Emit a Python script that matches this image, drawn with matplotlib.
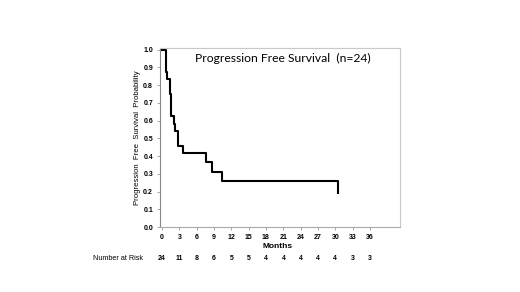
import matplotlib
matplotlib.use("Agg")
import matplotlib.pyplot as plt
import matplotlib.transforms as mtransforms

times = [0, 0.74, 0.91, 1.36, 1.47, 1.59, 2.04, 2.27, 2.83, 3.63, 7.6, 8.6, 10.3, 30.4]
surv = [1.0, 0.875, 0.833, 0.75, 0.667, 0.625, 0.583, 0.542, 0.458, 0.417, 0.365, 0.313, 0.26, 0.19]
xticks = [0, 3, 6, 9, 12, 15, 18, 21, 24, 27, 30, 33, 36]
at_risk = [24, 11, 8, 6, 5, 5, 4, 4, 4, 4, 4, 3, 3]
yticks = [0.0, 0.1, 0.2, 0.3, 0.4, 0.5, 0.6, 0.7, 0.8, 0.9, 1.0]

plt.rcParams['font.family'] = ['Liberation Sans', 'DejaVu Sans']
fig = plt.figure(figsize=(5.2, 2.92), dpi=100)
ax = fig.add_axes([160/520, 1-227/292, 240/520, 179/292])

ax.step(times, surv, where='post', color='black', lw=1.5)
ax.set_xlim(-0.35, 41.2)
ax.set_ylim(0, 1.01)
ax.set_xticks(xticks)
ax.set_xticklabels([str(t) for t in xticks], fontsize=5, fontweight='bold')
ax.set_yticks(yticks)
ax.set_yticklabels([f"{v:.1f}" for v in yticks], fontsize=5, fontweight='bold')
ax.tick_params(axis='both', length=2, width=0.6, color='#999999', pad=3)
for s in ax.spines.values():
    s.set_color('#c8c8c8')
    s.set_linewidth(0.8)
ax.spines['left'].set_color('#888888')
ax.spines['bottom'].set_color('#aaaaaa')

ax.set_ylabel('Progression  Free  Survival  Probability', fontsize=5.6, labelpad=2)
ax.yaxis.set_label_coords(-19/240, 0.5)
ax.text(0.51, 0.94, 'Progression Free Survival  (n=24)', transform=ax.transAxes,
        ha='center', va='center', fontsize=8.7, family=['Lato', 'DejaVu Sans'])

fig.text(278/520, 1-246/292, 'Months', ha='center', va='center', fontsize=6, fontweight='bold')
trans = mtransforms.blended_transform_factory(ax.transData, fig.transFigure)
for t, n in zip(xticks, at_risk):
    fig.text(t, 1-258/292, str(n), transform=trans, ha='center', va='center',
             fontsize=5, fontweight='bold')
fig.text(143/520, 1-258/292, 'Number at Risk', ha='right', va='center', fontsize=5.2)

fig.savefig('out.png', dpi=100)
